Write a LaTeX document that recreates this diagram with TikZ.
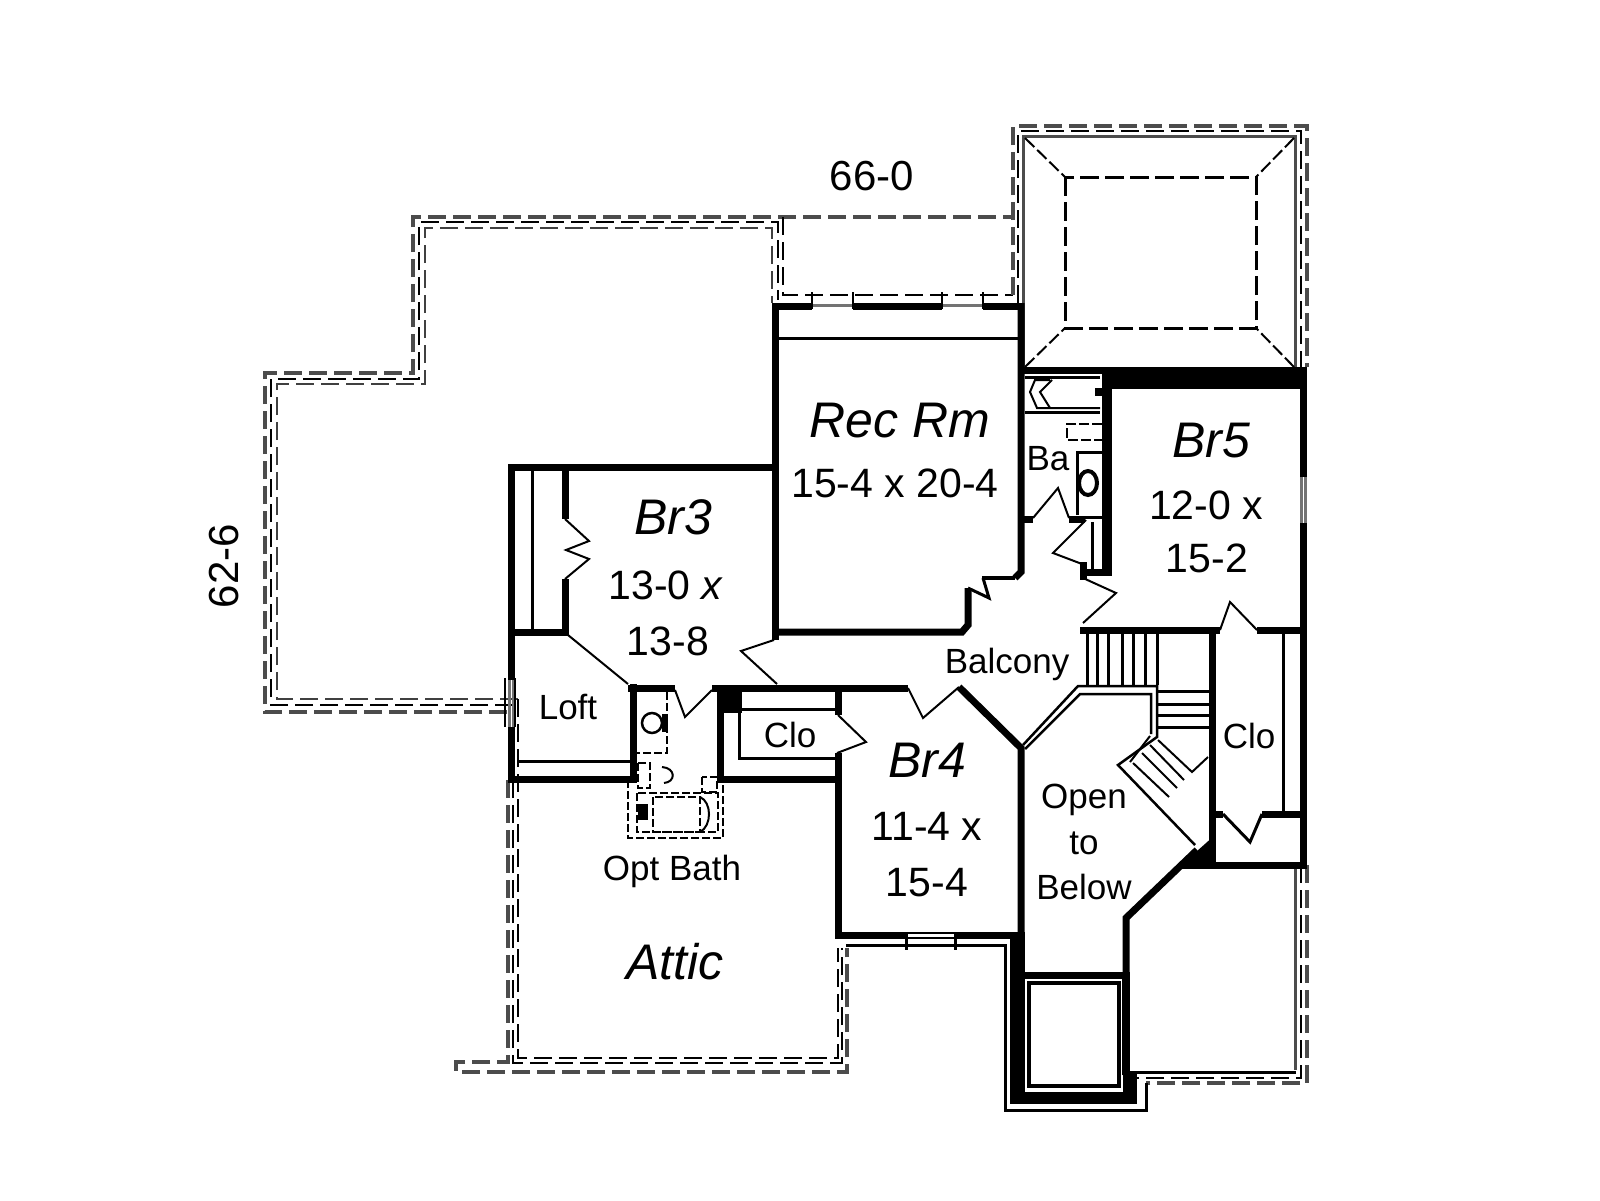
\documentclass[tikz,border=0pt]{standalone}
\usepackage{fontspec}
\setmainfont{Liberation Sans}
\tikzset{
  wall/.style={line width=7pt},
  partition/.style={line width=3pt},
  hairline/.style={line width=2pt},
  glazing/.style={line width=3pt, black!55},
  roofout/.style={line width=3.5pt, black!70, dash pattern=on 18pt off 7pt},
  roofmid/.style={line width=2pt, dash pattern=on 18pt off 7pt},
  roofin/.style={line width=2.5pt, black!75, dash pattern=on 18pt off 7pt},
  hidden/.style={line width=3pt, dash pattern=on 19pt off 6pt},
  hipline/.style={line width=2pt, dash pattern=on 13pt off 4pt},
  fixture/.style={line width=2.5pt, dash pattern=on 8pt off 3pt},
  dimlabel/.style={inner sep=0pt, font=\fontsize{41}{41}\selectfont},
  titlelabel/.style={inner sep=0pt, font=\fontsize{50}{50}\itshape\selectfont},
  smalllabel/.style={inner sep=0pt, font=\fontsize{35}{35}\selectfont}
}
\begin{document}
\begin{tikzpicture}[x=1pt, y=-1pt, line join=miter]
  \useasboundingbox (0,0) rectangle (1600,1200);

  % roof lines, left part
  \draw[roofout] (507,712) -- (265,712) -- (265,373) -- (413,373) -- (413,217) -- (1013,217);
  \draw[roofmid] (513,705) -- (271,705) -- (271,379) -- (419,379) -- (419,222) -- (778,222) -- (778,300);
  \draw[roofin] (518,699) -- (277,699) -- (277,384) -- (425,384) -- (425,228) -- (772,228) -- (772,303);
  \draw[roofmid] (783,217) -- (783,295) -- (1013,295);

  % roof lines, top right
  \draw[roofout] (1013,295) -- (1013,126) -- (1307,126) -- (1307,367);
  \draw[roofmid] (1018,303) -- (1018,131) -- (1301,131) -- (1301,367);
  \draw[line width=3pt, black!70] (1023,367) -- (1023,136) -- (1295,136) -- (1295,367);
  \draw[hidden] (1065,177) rectangle (1256,328);
  \draw[hipline] (1025,138) -- (1065,177) (1294,138) -- (1256,177)
    (1025,367) -- (1065,328) (1294,367) -- (1256,328);

  % roof lines, attic
  \draw[roofout] (508,780) -- (508,1062) -- (456,1062) -- (456,1072) -- (847,1072) -- (847,948);
  \draw[roofmid] (513,780) -- (513,1063) -- (842,1063) -- (842,948);
  \draw[roofmid] (518,699) -- (518,1058) -- (838,1058) -- (838,948);

  % roof lines, bottom right
  \draw[roofout] (1307,865) -- (1307,1083) -- (1146,1083);
  \draw[roofmid] (1301,865) -- (1301,1078) -- (1137,1078);
  \draw[line width=3pt, black!70] (1295,865) -- (1295,1070);
  \draw[partition] (1296,1072) -- (1130,1072);
  \draw[partition] (1146,1083) -- (1146,1110) -- (1005,1110) -- (1005,945) -- (846,945);

  % Br3 and Rec Rm walls
  \draw[wall] (511,680) -- (511,467) -- (775,467);
  \draw[wall] (511,727) -- (511,783);
  \draw[wall] (775,303) -- (775,640);
  \draw[wall] (772,306) -- (812,306) (853,306) -- (942,306) (983,306) -- (1024,306);
  \draw[partition] (778,338) -- (1018,338);
  \draw[glazing] (812,305) -- (853,305) (942,305) -- (983,305);
  \draw[hairline] (812,292) -- (812,309) (853,292) -- (853,309) (942,292) -- (942,309) (983,292) -- (983,309);
  \draw[wall] (565,467) -- (565,519) (565,579) -- (565,635);
  \draw[wall] (511,632) -- (568,632);
  \draw[partition] (532,470) -- (532,630);
  \draw[hairline] (565,519) -- (589,541) -- (566,550) -- (589,559) -- (565,579);
  \draw[hairline] (568,635) -- (628,684);
  \draw[wall] (775,632) -- (962,632) -- (968,625) -- (968,588);
  \draw[partition] (968,588) -- (989,598) -- (983,578);
  \draw[line width=4pt] (982,578) -- (1015,578);
  \draw[wall] (1015,578) -- (1021,572) -- (1021,303);
  \draw[hairline] (774,640) -- (741,651) -- (777,684);

  % Loft window
  \draw[glazing] (509,680) -- (509,727) (513,680) -- (513,727);
  \draw[hairline] (505,678) -- (505,727) (515,678) -- (515,727);

  % corridor and Opt Bath walls
  \draw[wall] (628,688) -- (675,688) (712,688) -- (908,688);
  \draw[wall] (633,684) -- (633,783);
  \draw[wall] (720,688) -- (720,783);
  \draw[wall] (511,779) -- (636,779) (717,779) -- (842,779);
  \draw[partition] (519,761) -- (630,761);
  \fill (718,688) rectangle (742,713);
  \draw[hairline] (675,690) -- (685,717) -- (712,690);
  \draw[fixture] (667,692) -- (667,753) -- (637,753);
  \draw[line width=2.5pt] (652,723) circle (10pt);
  \fill (662,714) rectangle (668,732);
  \draw[fixture] (638,763) rectangle (650,788) (702,777) rectangle (717,792);
  \draw[hairline] (662,767) .. controls (676,768) and (676,782) .. (664,783);
  \draw[fixture] (628,780) -- (628,838) -- (723,838) -- (723,780);
  \draw[fixture] (637,793) rectangle (718,832);
  \draw[fixture] (653,797) rectangle (700,832);
  \draw[hairline] (700,797) .. controls (712,802) and (712,826) .. (700,832);
  \fill (638,804) rectangle (648,820);

  % Clo and Br4
  \draw[partition] (742,709) -- (837,709) (739,709) -- (739,758) -- (837,758);
  \draw[wall] (838,688) -- (838,715) (838,753) -- (838,938);
  \draw[hairline] (838,715) -- (866,742) -- (837,753);
  \draw[wall] (835,935) -- (906,935) (955,935) -- (1024,935);
  \draw[hairline] (906,933) -- (955,933) (906,938) -- (955,938);
  \draw[partition] (906,933) -- (906,950) (955,933) -- (955,950);
  \draw[hairline] (908,688) -- (923,718) -- (959,687);
  \draw[wall] (959,687) -- (1021,748) -- (1021,938);

  % bath at Br5
  \draw[wall] (1021,370) -- (1103,370);
  \fill (1103,367) rectangle (1307,389);
  \draw[line width=10pt] (1107,367) -- (1107,575);
  \draw[wall] (1080,572) -- (1112,572);
  \draw[wall] (1303,367) -- (1303,477) (1303,523) -- (1303,868);
  \draw[glazing] (1301,477) -- (1301,523) (1305,477) -- (1305,523);
  \draw[partition] (1025,377) -- (1100,377) (1025,412) -- (1100,412);
  \draw[hairline] (1050,380) -- (1035,380) -- (1030,392) -- (1037,408) -- (1100,408);
  \draw[hairline] (1052,380) -- (1040,392) -- (1050,408);
  \fill (1095,388) rectangle (1102,396);
  \draw[line width=2.5pt, dash pattern=on 10pt off 3pt] (1102,424) -- (1067,424) -- (1067,440) -- (1102,440);
  \draw[partition] (1077,515) -- (1077,452) -- (1102,452);
  \draw[partition] (1077,517) -- (1102,517);
  \draw[line width=4pt] (1088,483) ellipse (9pt and 12pt);
  \draw[wall] (1021,519) -- (1033,519) (1069,519) -- (1085,519);
  \draw[hairline] (1033,518) -- (1058,488) -- (1069,518);
  \draw[partition] (1092,522) -- (1092,570);
  \draw[hairline] (1086,520) -- (1053,553) -- (1082,564);
  \draw[wall] (1083,562) -- (1083,580);
  \draw[hairline] (1083,578) -- (1116,593) -- (1083,623);
  \draw[wall] (1080,630) -- (1220,630) (1257,630) -- (1307,630);
  \draw[hairline] (1220,630) -- (1230,602) -- (1257,630);

  % stairs
  \foreach \tx in {1087,1097,1108,1122,1133,1145,1157}
    \draw[partition] (\tx,633) -- (\tx,685);
  \foreach \ty in {691,704,715,727}
    \draw[partition] (1157,\ty) -- (1209,\ty);
  \draw[line width=2.5pt] (1023,745) -- (1078,686) -- (1157,686) -- (1157,737) -- (1118,765) -- (1195,845);
  \draw[line width=2.5pt] (1025,749) -- (1080,694) -- (1151,694) -- (1151,734);
  \draw[hairline] (1158,740) -- (1192,772) -- (1208,757)
    (1150,745) -- (1184,780) (1142,753) -- (1177,788) (1133,763) -- (1169,797);
  \draw[hairline] (1150,736) -- (1130,762);

  % right side
  \draw[wall] (1212,630) -- (1212,868);
  \draw[partition] (1283,633) -- (1283,812);
  \draw[wall] (1212,814) -- (1223,814) (1262,814) -- (1307,814);
  \draw[partition] (1223,814) -- (1250,842) -- (1262,814);
  \draw[wall] (1180,865) -- (1307,865);
  \fill (1215,835) -- (1215,868) -- (1178,868) -- cycle;
  \draw[wall] (1197,850) -- (1126,918) -- (1126,1075);

  % chimney block
  \fill (1010,932) rectangle (1025,1104);
  \fill (1010,1092) rectangle (1137,1104);
  \fill (1123,1072) rectangle (1137,1104);
  \fill (1122,975) rectangle (1130,1075);
  \draw[wall] (1025,975) -- (1130,975);
  \draw[line width=3.5pt] (1029,983) rectangle (1119,1086);

  % room labels
  \node[smalllabel, font=\fontsize{42}{42}\selectfont] (size66) at (872,176) {66-0};
  \node[smalllabel, font=\fontsize{42}{42}\selectfont, rotate=90] (size62) at (224,566) {62-6};
  \node[titlelabel] (recrm) at (900,421) {Rec Rm};
  \node[dimlabel] (recdim) at (895,483) {15-4 x 20-4};
  \node[titlelabel] (brthree) at (673,517) {Br3};
  \node[dimlabel] (brthreea) at (666,585) {13-0 \textit{x}};
  \node[dimlabel] (brthreeb) at (668,641) {13-8};
  \node[smalllabel] (loft) at (568,707) {Loft};
  \node[smalllabel] (optbath) at (672,871) {Opt Bath};
  \node[titlelabel] (attic) at (675,962) {Attic};
  \node[smalllabel] (cloa) at (790,735) {Clo};
  \node[titlelabel] (brfour) at (927,760) {Br4};
  \node[dimlabel] (brfoura) at (927,826) {11-4 x};
  \node[dimlabel] (brfourb) at (927,883) {15-4};
  \node[smalllabel] (balcony) at (1007,664) {Balcony};
  \node[smalllabel] (opena) at (1084,800) {Open};
  \node[smalllabel] (openb) at (1084,843) {to};
  \node[smalllabel] (openc) at (1084,887) {Below};
  \node[smalllabel] (clob) at (1249,736) {Clo};
  \node[titlelabel] (brfive) at (1211,441) {Br5};
  \node[dimlabel] (brfivea) at (1206,505) {12-0 x};
  \node[dimlabel] (brfiveb) at (1207,558) {15-2};
  \node[smalllabel] (ba) at (1048,459) {Ba};
\end{tikzpicture}
\end{document}
